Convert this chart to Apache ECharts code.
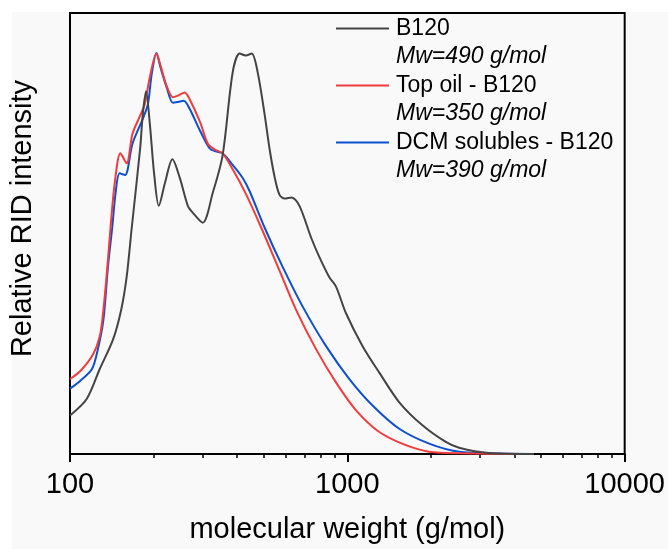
<!DOCTYPE html>
<html>
<head>
<meta charset="utf-8">
<script src="https://cdn.jsdelivr.net/npm/echarts@6/dist/echarts.min.js"></script>
<style>
html,body{margin:0;padding:0;background:#fff;}
#chart{width:668px;height:549px;}
</style>
</head>
<body>
<div id="chart"></div>
<script>
// Series names and Mw annotations
const seriesNames = ['B120', 'Top oil - B120', 'DCM solubles - B120'];
const mwLabels = ['Mw=490 g/mol', 'Mw=350 g/mol', 'Mw=390 g/mol'];
const seriesColors = ['#444444', '#f03c3c', '#0c50d0'];

// X ticks (log axis)
const majorTicks = [100, 1000, 10000];
const minorTicks = [200, 300, 400, 500, 600, 700, 800, 900, 2000, 3000, 4000, 5000, 6000, 7000, 8000, 9000];

// B120 (molecular weight, relative intensity)
const mwB120 = [100, 115, 128, 143, 153, 160, 167, 179, 183, 188, 194, 201, 209, 220, 234, 249, 266, 277, 301, 327, 355, 386, 409, 430, 452, 475, 503, 524, 546, 569, 594, 629, 672, 740, 793, 861, 911, 989, 1135, 1304, 1539, 1866, 2265, 2529, 3242, 4707];
const intB120 = [0.096, 0.138, 0.212, 0.286, 0.360, 0.441, 0.565, 0.762, 0.848, 0.905, 0.824, 0.700, 0.619, 0.676, 0.735, 0.688, 0.619, 0.602, 0.577, 0.651, 0.745, 0.952, 0.999, 0.994, 0.999, 0.952, 0.848, 0.762, 0.693, 0.647, 0.637, 0.640, 0.619, 0.540, 0.491, 0.441, 0.417, 0.351, 0.269, 0.203, 0.129, 0.0715, 0.030, 0.0155, 0.0025, 0];

// Top oil - B120
const mwTop = [100, 109, 121, 128, 132, 137, 140, 145, 152, 160, 168, 179, 186, 194, 205, 212, 223, 235, 247, 259, 270, 294, 314, 332, 355, 387, 432, 489, 569, 654, 772, 911, 1075, 1304, 1626, 1972, 2529, 4707];
const intTop = [0.187, 0.207, 0.248, 0.293, 0.360, 0.483, 0.565, 0.676, 0.750, 0.725, 0.799, 0.844, 0.873, 0.940, 0.999, 0.969, 0.918, 0.890, 0.895, 0.902, 0.885, 0.829, 0.774, 0.760, 0.750, 0.709, 0.647, 0.565, 0.458, 0.359, 0.261, 0.178, 0.109, 0.055, 0.022, 0.0057, 0.0017, 0];

// DCM solubles - B120
const mwDcm = [100, 109, 120, 126, 132, 137, 142, 146, 151, 158, 168, 183, 191, 197, 205, 212, 223, 235, 245, 257, 270, 294, 319, 335, 355, 386, 420, 444, 503, 585, 691, 838, 1017, 1233, 1539, 1972, 2529, 3522, 4707];
const intDcm = [0.163, 0.183, 0.212, 0.261, 0.335, 0.466, 0.565, 0.651, 0.700, 0.696, 0.774, 0.836, 0.873, 0.947, 1.000, 0.964, 0.915, 0.876, 0.878, 0.881, 0.861, 0.807, 0.762, 0.755, 0.750, 0.721, 0.688, 0.656, 0.565, 0.466, 0.367, 0.269, 0.187, 0.121, 0.063, 0.026, 0.0057, 0.001, 0];

const zip = (xs, ys) => xs.map((x, i) => [x, ys[i]]);
const allData = [zip(mwB120, intB120), zip(mwTop, intTop), zip(mwDcm, intDcm)];

const FONT = "'Liberation Sans', Arial, sans-serif";
const chart = echarts.init(document.getElementById('chart'), null, {renderer: 'canvas'});

const legendTop = 17;
const legendStep = 57;

const option = {
  backgroundColor: '#ffffff',
  animation: false,
  textStyle: {fontFamily: FONT},
  grid: {
    left: 70, right: 42, top: 13, bottom: 90,
    show: true, borderColor: '#000', borderWidth: 2,
    backgroundColor: 'transparent'
  },
  legend: {
    data: seriesNames,
    orient: 'vertical',
    left: 336,
    top: legendTop,
    padding: 0,
    itemWidth: 53,
    itemHeight: 2,
    itemGap: legendStep - 23,
    icon: 'rect',
    selectedMode: false,
    textStyle: {fontFamily: FONT, fontSize: 23, color: '#000', lineHeight: 23, padding: [0, 0, 0, 2]}
  },
  graphic: [
    {type: 'rect', z: -100, silent: true, shape: {x: 12, y: 12, width: 656, height: 537}, style: {fill: '#f9f9f9'}}
  ].concat(mwLabels.map((t, i) => ({
    type: 'text', left: 396, top: legendTop + 11 + 29 + i * legendStep - 12, silent: true,
    style: {text: t, fontFamily: FONT, fontStyle: 'italic', fontSize: 23, fill: '#000'}
  }))),
  xAxis: [{
    type: 'log', logBase: 10, min: 100, max: 10000, position: 'bottom',
    name: 'molecular weight (g/mol)', nameLocation: 'middle', nameGap: 61,
    nameTextStyle: {fontFamily: FONT, fontSize: 29, color: '#000'},
    axisLine: {show: true, lineStyle: {color: '#000', width: 2}},
    axisTick: {show: true, inside: false, length: 8, lineStyle: {color: '#000', width: 2}, customValues: majorTicks},
    axisLabel: {show: true, margin: 16, fontFamily: FONT, fontSize: 29, color: '#000', customValues: majorTicks,
      formatter: v => String(Math.round(v))},
    splitLine: {show: false},
    minorTick: {show: false}
  }, {
    type: 'log', logBase: 10, min: 100, max: 10000, position: 'bottom',
    axisLine: {show: false},
    axisTick: {show: true, inside: false, length: 4, lineStyle: {color: '#000', width: 1.5}, customValues: minorTicks},
    axisLabel: {show: false},
    splitLine: {show: false}
  }],
  yAxis: {
    type: 'value', min: 0, max: 1.1,
    name: 'Relative RID intensity', nameLocation: 'middle', nameGap: 33,
    nameTextStyle: {fontFamily: FONT, fontSize: 29, color: '#000', padding: [0, 0, 0, 30]},
    axisLine: {show: true, lineStyle: {color: '#000', width: 2}},
    axisTick: {show: false},
    axisLabel: {show: false},
    splitLine: {show: false}
  },
  series: seriesNames.map((n, i) => ({
    name: n, type: 'line', xAxisIndex: 0, data: allData[i],
    showSymbol: false, symbol: 'none', smooth: 0.3,
    lineStyle: {color: seriesColors[i], width: 2},
    itemStyle: {color: seriesColors[i]},
    z: 3 - i
  }))
};
chart.setOption(option);
</script>
</body>
</html>
